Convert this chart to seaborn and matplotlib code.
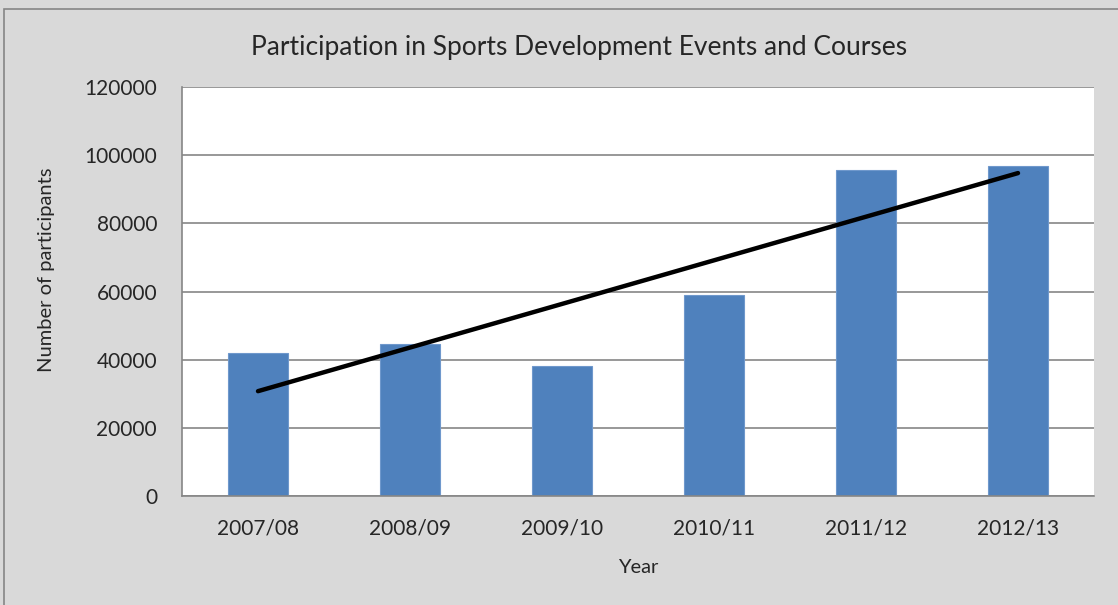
import matplotlib
matplotlib.use("Agg")
import matplotlib.pyplot as plt
import matplotlib.patches as mpatches
import seaborn as sns
import pandas as pd
import numpy as np

years = ["2007/08", "2008/09", "2009/10", "2010/11", "2011/12", "2012/13"]
participants = [42000, 44700, 38200, 59100, 95700, 96800]

df = pd.DataFrame({"Year": years, "Participants": participants})

sns.set_style("white")
plt.rcParams["font.family"] = ["Lato", "DejaVu Sans"]

bg = "#D9D9D9"
grey = "#868686"

fig = plt.figure(figsize=(11.18, 6.05), dpi=100)
fig.patch.set_facecolor(bg)
fig.patches.append(mpatches.Rectangle((4 / 1118, -0.02), 1.0, 0.985 + 0.02,
                                      transform=fig.transFigure, fill=False,
                                      edgecolor=grey, linewidth=1.2))
ax = fig.add_axes([182 / 1118, 1 - 496 / 605, (1094 - 182) / 1118, (496 - 87) / 605])
ax.set_facecolor("white")

sns.barplot(data=df, x="Year", y="Participants", color="#4F81BD", width=0.4,
            edgecolor="#6F98CC", linewidth=0.8, saturation=1, ax=ax, zorder=2)

# linear trend line
xi = np.arange(len(years))
slope, intercept = np.polyfit(xi, participants, 1)
trend = pd.DataFrame({"x": xi, "y": slope * xi + intercept})
sns.lineplot(data=trend, x="x", y="y", color="black", linewidth=3.2,
             solid_capstyle="round", ax=ax, zorder=3)

ax.set_xlim(-0.5, len(years) - 0.5)
ax.set_ylim(0, 120000)
ax.set_yticks(range(0, 120001, 20000))
ax.set_yticklabels([str(v) for v in range(0, 120001, 20000)], fontsize=15)
ax.yaxis.grid(True, color=grey, linewidth=1.2, zorder=0)
ax.set_axisbelow(True)

ax.set_xticks(xi)
ax.set_xticklabels(years, fontsize=15)
ax.set_xticks(np.arange(-0.5, len(years), 1.0), minor=True)
ax.tick_params(axis="x", which="major", length=0, pad=16)
ax.tick_params(axis="x", which="minor", length=6, color=grey, width=1.2)
ax.tick_params(axis="y", length=6, color=grey, width=1.2, pad=12)

for side in ["top", "right"]:
    ax.spines[side].set_visible(False)
for side in ["left", "bottom"]:
    ax.spines[side].set_color(grey)
    ax.spines[side].set_linewidth(1.2)

ax.set_xlabel("Year", fontsize=14.5, labelpad=15)
ax.set_ylabel("")
fig.text(47 / 1118, 1 - 270 / 605, "Number of participants", rotation=90,
         ha="center", va="center", fontsize=14.5)
fig.text(579.5 / 1118, 1 - 47 / 605, "Participation in Sports Development Events and Courses",
         ha="center", va="center", fontsize=19)

fig.savefig("out.png", dpi=100, facecolor=bg)
